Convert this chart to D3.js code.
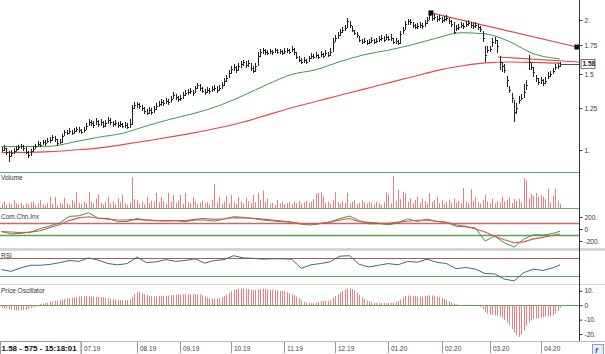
<!DOCTYPE html>
<html><head><meta charset="utf-8">
<script src="https://cdn.jsdelivr.net/npm/d3@7"></script>
<style>
html,body{margin:0;padding:0;background:#fff;}
svg{display:block;}
text{font-family:"Liberation Sans",Arial,sans-serif;}
</style></head><body>
<svg id="c" width="605" height="354"></svg>
<script>
// ---------- DATA ----------
const closes=[1.000,1.011,0.990,0.969,0.984,0.995,1.006,1.017,1.022,1.011,
0.990,0.974,0.995,1.006,1.022,1.033,1.028,1.044,1.039,1.050,
1.055,1.072,1.061,1.039,1.044,1.078,1.101,1.096,1.107,1.096,
1.107,1.119,1.113,1.101,1.113,1.137,1.161,1.155,1.143,1.167,
1.149,1.161,1.137,1.155,1.173,1.161,1.149,1.155,1.143,1.149,
1.137,1.143,1.131,1.149,1.252,1.272,1.279,1.265,1.252,1.232,
1.219,1.238,1.225,1.245,1.265,1.279,1.292,1.286,1.299,1.292,
1.313,1.342,1.327,1.313,1.320,1.342,1.356,1.363,1.370,1.356,
1.392,1.415,1.392,1.370,1.363,1.377,1.370,1.385,1.392,1.377,
1.392,1.415,1.445,1.468,1.508,1.540,1.557,1.532,1.566,1.582,
1.599,1.574,1.591,1.549,1.524,1.566,1.651,1.686,1.704,1.686,
1.678,1.695,1.686,1.704,1.686,1.695,1.678,1.695,1.704,1.686,
1.713,1.686,1.642,1.616,1.599,1.616,1.599,1.634,1.651,1.642,
1.660,1.642,1.669,1.651,1.678,1.660,1.686,1.779,1.818,1.847,
1.876,1.896,1.917,1.990,1.948,1.896,1.867,1.847,1.798,1.779,
1.789,1.770,1.779,1.798,1.779,1.789,1.808,1.818,1.798,1.827,
1.808,1.818,1.779,1.789,1.770,1.857,1.896,1.958,1.990,1.979,
1.948,1.927,1.938,1.948,1.938,1.969,2.000,2.055,2.022,2.033,
2.011,2.022,2.000,2.011,2.022,1.990,1.958,1.876,1.917,1.927,
1.948,1.938,1.958,1.969,1.948,1.938,1.948,1.927,1.906,1.818,
1.660,1.704,1.713,1.779,1.798,1.742,1.599,1.566,1.532,1.452,
1.377,1.320,1.225,1.252,1.306,1.320,1.363,1.415,1.599,1.557,
1.516,1.468,1.437,1.452,1.430,1.445,1.484,1.500,1.524,1.557,
1.566,1.582];
const highs=[1.017,1.028,1.011,0.995,1.000,1.011,1.022,1.028,1.033,1.028,
1.017,0.995,1.006,1.022,1.033,1.050,1.044,1.055,1.055,1.067,
1.072,1.084,1.078,1.061,1.061,1.090,1.113,1.113,1.125,1.113,
1.125,1.131,1.131,1.119,1.131,1.155,1.180,1.173,1.167,1.186,
1.173,1.180,1.167,1.173,1.193,1.186,1.167,1.173,1.161,1.167,
1.155,1.161,1.155,1.180,1.272,1.292,1.292,1.286,1.272,1.258,
1.245,1.258,1.252,1.265,1.286,1.299,1.313,1.306,1.320,1.313,
1.334,1.363,1.349,1.334,1.342,1.363,1.377,1.385,1.392,1.377,
1.407,1.430,1.422,1.400,1.385,1.400,1.392,1.407,1.415,1.407,
1.415,1.437,1.468,1.492,1.532,1.566,1.582,1.566,1.591,1.608,
1.616,1.608,1.616,1.591,1.566,1.591,1.686,1.713,1.723,1.713,
1.704,1.713,1.704,1.723,1.713,1.713,1.704,1.723,1.723,1.713,
1.742,1.723,1.686,1.651,1.634,1.642,1.625,1.651,1.678,1.669,
1.686,1.669,1.695,1.678,1.704,1.686,1.723,1.818,1.847,1.876,
1.906,1.927,1.948,2.022,1.990,1.938,1.896,1.876,1.837,1.808,
1.818,1.798,1.808,1.827,1.808,1.818,1.837,1.847,1.837,1.857,
1.837,1.857,1.818,1.818,1.798,1.886,1.927,1.990,2.011,2.011,
1.979,1.958,1.969,1.979,1.969,2.000,2.033,2.077,2.055,2.066,
2.044,2.055,2.033,2.044,2.055,2.022,2.000,1.979,1.948,1.958,
1.979,1.969,1.990,2.000,1.979,1.969,1.979,1.958,1.938,1.886,
1.742,1.742,1.742,1.818,1.827,1.798,1.651,1.599,1.582,1.484,
1.407,1.356,1.306,1.286,1.334,1.349,1.422,1.452,1.660,1.591,
1.557,1.492,1.468,1.476,1.460,1.476,1.516,1.524,1.549,1.582,
1.591,1.599];
const lows=[0.990,0.995,0.974,0.938,0.964,0.979,0.990,1.000,1.006,0.995,
0.979,0.958,0.969,0.990,1.006,1.017,1.017,1.028,1.022,1.039,
1.039,1.050,1.044,1.022,1.033,1.039,1.078,1.084,1.090,1.084,
1.090,1.101,1.096,1.090,1.096,1.113,1.137,1.137,1.125,1.143,
1.131,1.137,1.125,1.131,1.149,1.143,1.131,1.137,1.125,1.131,
1.125,1.125,1.119,1.125,1.143,1.245,1.252,1.245,1.232,1.212,
1.206,1.212,1.206,1.219,1.238,1.258,1.265,1.265,1.279,1.272,
1.286,1.313,1.306,1.292,1.299,1.313,1.334,1.342,1.349,1.334,
1.356,1.385,1.370,1.356,1.342,1.356,1.349,1.363,1.370,1.356,
1.370,1.385,1.407,1.437,1.468,1.500,1.524,1.508,1.524,1.549,
1.566,1.549,1.557,1.524,1.508,1.516,1.566,1.642,1.669,1.660,
1.660,1.669,1.660,1.678,1.669,1.669,1.660,1.669,1.678,1.669,
1.686,1.660,1.625,1.599,1.582,1.591,1.582,1.599,1.625,1.625,
1.634,1.625,1.642,1.634,1.651,1.642,1.651,1.686,1.779,1.808,
1.837,1.867,1.886,1.917,1.917,1.876,1.847,1.818,1.779,1.760,
1.770,1.751,1.760,1.770,1.760,1.770,1.779,1.789,1.779,1.798,
1.789,1.789,1.760,1.760,1.751,1.760,1.857,1.896,1.948,1.948,
1.917,1.906,1.906,1.917,1.906,1.927,1.958,2.000,1.990,2.000,
1.979,1.990,1.969,1.979,1.990,1.958,1.927,1.857,1.886,1.896,
1.917,1.906,1.927,1.938,1.917,1.906,1.917,1.896,1.876,1.779,
1.599,1.678,1.686,1.732,1.760,1.678,1.532,1.516,1.508,1.400,
1.356,1.286,1.161,1.212,1.279,1.306,1.320,1.377,1.532,1.532,
1.476,1.437,1.415,1.422,1.407,1.422,1.460,1.476,1.500,1.532,
1.540,1.557];
// volume in millions
const volumes=[15,22,12,18,14,27,16,13,19,11,
17,14,20,22,12,16,27,14,10,18,
38,15,36,12,19,14,34,17,13,27,
20,52,18,14,22,16,52,20,15,32,
45,18,13,21,38,16,24,14,32,20,
43,17,12,20,100,30,27,15,20,13,
38,18,25,22,50,19,38,24,16,50,
22,43,18,26,43,15,50,20,17,38,
22,14,18,25,16,20,13,28,78,19,
38,15,22,40,17,43,20,14,38,22,
16,35,24,18,43,20,50,28,57,22,
32,15,18,12,27,16,22,14,18,20,
15,22,18,24,16,20,25,18,22,30,
48,50,52,38,18,22,15,26,52,20,
15,24,18,50,16,22,26,14,18,27,
20,16,22,18,14,22,17,12,20,52,
44,16,104,25,60,30,54,48,22,32,
18,27,38,20,32,24,16,48,22,27,
38,17,26,14,22,28,20,32,18,24,
16,66,22,18,62,25,38,20,16,27,
43,22,18,32,16,24,20,38,22,27,
36,18,30,24,32,20,97,90,32,48,
40,50,38,42,38,30,64,20,40,64,
25,15];
const oscillator=[-2.0,-2.2,-2.5,-2.8,-3.1,-3.4,-3.6,-3.7,-3.6,-3.4,
-3.0,-2.6,-2.0,-1.4,-0.9,-0.5,0.8,1.1,1.5,1.9,
2.3,2.6,3.0,3.4,3.8,4.1,4.4,4.7,4.9,5.2,
5.6,5.9,6.1,6.2,6.3,6.3,6.2,6.1,6.0,5.9,
5.8,5.7,5.4,5.1,4.8,4.5,4.2,3.9,3.7,3.5,
3.4,3.4,3.5,4.2,5.8,7.6,9.0,9.3,8.6,7.8,
7.0,6.5,6.2,6.1,6.2,6.3,6.3,6.4,6.5,6.7,
6.9,7.1,7.2,7.3,7.4,7.6,7.7,7.7,7.8,7.7,
7.6,7.6,7.4,6.8,6.0,5.2,4.8,4.6,4.5,4.6,
5.0,5.6,6.5,7.5,8.6,9.7,10.6,11.1,11.4,11.6,
11.7,11.5,11.1,10.7,10.5,10.6,10.9,11.2,11.3,11.2,
11.0,10.8,10.6,10.4,10.2,10.0,9.8,9.5,9.1,8.3,
7.5,7.0,6.0,4.8,3.5,2.4,1.8,1.5,1.4,1.5,
1.8,2.2,2.6,2.9,3.0,3.1,3.6,5.0,6.3,7.5,
8.8,10.0,11.0,11.7,11.8,11.2,10.2,8.8,7.2,5.6,
4.3,3.3,2.6,2.1,1.8,1.6,1.5,1.5,1.5,1.6,
1.6,1.7,1.9,2.2,2.8,4.0,5.4,6.3,6.7,6.6,
6.4,6.2,6.1,6.0,6.1,6.3,6.6,6.9,6.8,6.5,
6.0,5.5,5.0,4.3,3.6,2.8,1.9,1.2,0.6,0.3,
0.2,0.2,0.2,0.3,0.3,0.2,0.1,-0.3,-1.2,-2.8,
-4.6,-5.8,-6.5,-6.8,-7.0,-7.2,-7.8,-8.8,-10.3,-12.0,
-14.2,-16.5,-19.0,-21.0,-22.0,-20.5,-17.5,-14.5,-12.0,-10.4,
-9.6,-9.2,-9.0,-8.6,-8.2,-8.0,-7.9,-7.6,-7.0,-5.6,
-4.0,-1.8];
// moving averages, read at these bar numbers
const maBars=[0,10,20,30,40,50,60,70,80,90,100,110,120,130,140,150,160,170,180,190,200,210,220,230,231];
const maFast=[1.018,1.019,1.020,1.044,1.070,1.093,1.137,1.179,1.217,1.267,1.337,1.419,1.496,1.534,1.602,1.662,1.703,1.754,1.817,1.869,1.858,1.784,1.671,1.627,1.624];
const maSlow=[0.986,0.987,0.991,1.000,1.010,1.029,1.050,1.072,1.097,1.126,1.161,1.206,1.253,1.295,1.339,1.384,1.430,1.478,1.527,1.565,1.592,1.599,1.595,1.590,1.590];
// indicators, read at these bar numbers
const indBars=[0,4,8,12,16,20,24,28,32,36,40,44,48,52,56,60,64,68,72,76,80,84,88,92,96,100,104,108,112,116,120,124,128,132,136,140,144,148,152,156,160,164,168,172,176,180,184,188,192,196,200,204,208,212,216,220,224,228,231];
const cci=[-40,-83,-72,-50,5,50,100,210,220,270,180,178,122,125,175,150,140,135,140,122,150,150,130,165,205,195,175,150,135,122,115,80,67,90,120,175,215,140,85,90,70,100,170,125,165,125,112,45,35,20,-200,-120,-230,-300,-170,-95,-100,-75,-39];
const cciMa=[-44,-50,-60,-52,-30,25,70,140,185,205,180,165,150,152,158,148,140,140,140,140,160,175,160,170,188,185,178,165,150,132,110,90,84,94,115,150,175,122,110,100,95,115,130,145,145,130,110,70,45,0,-50,-120,-180,-230,-215,-165,-140,-105,-83];
const rsi=[44,40,48,54,54,56,60,65,63,71,66,58,55,58,73,60,62,67,63,65,69,59,65,67,76,71,70,68,69,69,68,47,55,58,62,75,76,56,50,54,58,55,63,61,68,61,58,46,49,45,35,34,22,18,37,45,42,48,55];
// trend lines [bar, price]
const trendA=[[177.6,2.077],[238,1.732]];
const trendB=[[205.3,1.642],[238.8,1.599]];
// axes
const monthBars=[33,56,74,95,117,138,160,182,202,223];
const monthLabels=["07.19","08.19","09.19","10.19","11.19","12.19","01.20","02.20","03.20","04.20"];
const priceTicks=[1,1.25,1.5,1.75,2], priceTickLabels=["1.","1.25","1.5","1.75","2."];
const volTicks=[0,20,40,60,80], volTickLabels=["0","20. M","40. M","60. M","80. M"];
const cciTicks=[-200,0,200], cciTickLabels=["-200.","0","200."];
const cciLevels=[100,-100];
const rsiTicks=[20,40,60,80], rsiTickLabels=["20.","40.","60.","80."];
const rsiLevels=[70,30];
const oscTicks=[-20,-10,0,10], oscTickLabels=["-20.","-10.","0","10."];
const infoText="1.58 - 575 - 15:18:01";

// ---------- DRAW ----------
const svg=d3.select("#c");
const AX=579.5;
const N=closes.length;
const x=d3.scaleLinear().domain([0,N-1]).range([1.5,560]);
const px=i=>Math.round(x(i))+0.5;
const yP=d3.scaleLog().domain([0.8893,2.2255]).range([172,0]);
const yV=d3.scaleLinear().domain([0,80]).range([208.5,183.5]);
const yC=d3.scaleLinear().domain([-200,200]).range([241,217]);
const yR=d3.scaleLinear().domain([20,80]).range([280,254]);
const yO=d3.scaleLinear().domain([-20,10]).range([334,290.8]);
const rnd=v=>Math.round(v)+0.5;

const defs=svg.append("defs");
function clip(id,x0,y0,w,h){defs.append("clipPath").attr("id",id).append("rect").attr("x",x0).attr("y",y0).attr("width",w).attr("height",h);return `url(#${id})`;}
const cpP=clip("cpP",0,0,579,172), cpV=clip("cpV",0,173,579,35.5), cpC=clip("cpC",0,209,579,39.5),
      cpR=clip("cpR",0,251,579,33), cpO=clip("cpO",0,285,579,56);
const cpVa=clip("cpVa",579,173,30,32.5), cpRa=clip("cpRa",579,251,30,32.5);

function hline(y,x1,x2,color,w){svg.append("line").attr("x1",x1).attr("x2",x2).attr("y1",y).attr("y2",y).attr("stroke",color).attr("stroke-width",w||1);}
// separators
hline(172.5,0,AX,"#63b063");
hline(208.5,0,AX,"#63b063");
hline(249.5,0,605,"#d4d4d4",3);
hline(284.5,0,605,"#d8d8d8");
hline(341.5,0,605,"#b8b8b8");

// reference levels
const gC=svg.append("g").attr("clip-path",cpC);
cciLevels.forEach((v,k)=>gC.append("line").attr("x1",0).attr("x2",AX).attr("y1",rnd(yC(v))).attr("y2",rnd(yC(v))).attr("stroke",k===0?"#c46a6a":"#4fa84f").attr("stroke-width",1.5));
const gR=svg.append("g").attr("clip-path",cpR);
rsiLevels.forEach((v,k)=>gR.append("line").attr("x1",0).attr("x2",AX).attr("y1",rnd(yR(v))).attr("y2",rnd(yR(v))).attr("stroke",k===0?"#b05a5a":"#4fa84f").attr("stroke-width",1.2));
const gO=svg.append("g").attr("clip-path",cpO);
gO.append("line").attr("x1",0).attr("x2",AX).attr("y1",rnd(yO(0))).attr("y2",rnd(yO(0))).attr("stroke","#4fa84f");

// price panel
const gP=svg.append("g").attr("clip-path",cpP);
const line=d3.line().x(d=>x(d[0])).y(d=>yP(d[1])).curve(d3.curveMonotoneX);
gP.append("path").attr("d",line(maBars.map((b,k)=>[b,maSlow[k]]))).attr("fill","none").attr("stroke","#e8474c").attr("stroke-width",1.2);
gP.append("path").attr("d",line(maBars.map((b,k)=>[b,maFast[k]]))).attr("fill","none").attr("stroke","#3e9a46").attr("stroke-width",1);
const tl=d3.line().x(d=>x(d[0])).y(d=>yP(d[1]));
gP.append("path").attr("d",tl(trendA)).attr("stroke","#e0484c").attr("stroke-width",1.2).attr("fill","none");
gP.append("path").attr("d",tl(trendB)).attr("stroke","#e0484c").attr("stroke-width",1.2).attr("fill","none");
gP.selectAll("line.hl").data(closes).join("line").attr("class","hl")
  .attr("x1",(d,i)=>px(i)).attr("x2",(d,i)=>px(i))
  .attr("y1",(d,i)=>yP(highs[i])).attr("y2",(d,i)=>yP(lows[i]))
  .attr("stroke","#222").attr("stroke-width",1);
gP.selectAll("line.cl").data(closes).join("line").attr("class","cl")
  .attr("x1",(d,i)=>px(i)+0.5).attr("x2",(d,i)=>px(i)+1.5)
  .attr("y1",d=>rnd(yP(d))).attr("y2",d=>rnd(yP(d)))
  .attr("stroke","#222").attr("stroke-width",1);
// last price line
gP.append("line").attr("x1",px(N-1)).attr("x2",AX).attr("y1",rnd(yP(closes[N-1]))).attr("y2",rnd(yP(closes[N-1]))).attr("stroke","#555");
// trend end squares
[trendA[0],trendA[1]].forEach(p=>svg.append("rect").attr("x",x(p[0])-2.5).attr("y",yP(p[1])-2.5).attr("width",5).attr("height",5).attr("fill","#111"));

// volume
const gV=svg.append("g").attr("clip-path",cpV);
gV.selectAll("line").data(volumes).join("line")
  .attr("x1",(d,i)=>px(i)).attr("x2",(d,i)=>px(i))
  .attr("y1",yV(0)).attr("y2",d=>yV(d)).attr("stroke","#ef7c80");

// CCI lines
const lc=d3.line().x(d=>x(d[0])).y(d=>yC(d[1]));
gC.append("path").attr("d",lc(indBars.map((b,k)=>[b,cci[k]]))).attr("fill","none").attr("stroke","#3d9a45");
gC.append("path").attr("d",lc(indBars.map((b,k)=>[b,cciMa[k]]))).attr("fill","none").attr("stroke","#e05050").attr("stroke-width",1.1);

// RSI
const lr=d3.line().x(d=>x(d[0])).y(d=>yR(d[1]));
gR.append("path").attr("d",lr(indBars.map((b,k)=>[b,rsi[k]]))).attr("fill","none").attr("stroke","#3f6690").attr("stroke-width",1);

// oscillator
gO.selectAll("line.o").data(oscillator).join("line").attr("class","o")
  .attr("x1",(d,i)=>px(i)).attr("x2",(d,i)=>px(i))
  .attr("y1",yO(0)).attr("y2",d=>yO(d)).attr("stroke","#ef7c80");

// right axis
svg.append("line").attr("x1",AX).attr("x2",AX).attr("y1",0).attr("y2",341).attr("stroke","#333");
function rAxis(scale,vals,labels,cp){
  const g=svg.append("g").attr("transform",`translate(${AX},0)`)
    .call(d3.axisRight(scale).tickValues(vals).tickFormat((d,i)=>labels[i]).tickSize(3).tickPadding(2));
  g.select(".domain").remove();
  g.selectAll("line").attr("stroke","#333");
  g.selectAll("text").attr("font-size","6.5px").attr("fill","#333").attr("font-family","Liberation Sans, Arial, sans-serif");
  if(cp) g.attr("clip-path",cp);
  return g;
}
rAxis(yP,priceTicks,priceTickLabels);
rAxis(yV,volTicks,volTickLabels,cpVa);
rAxis(yC,cciTicks,cciTickLabels);
rAxis(yR,rsiTicks,rsiTickLabels,cpRa);
rAxis(yO,oscTicks,oscTickLabels);
// last price label
const lpY=yP(closes[N-1]);
svg.append("rect").attr("x",AX+1.5).attr("y",lpY-4.5).attr("width",14).attr("height",9).attr("fill","#fff").attr("stroke","#555").attr("stroke-width",0.8);
svg.append("text").attr("x",AX+3).attr("y",lpY+2.3).attr("font-size","6.5px").attr("font-weight","bold").attr("fill","#222").text(d3.format(".2f")(closes[N-1]));

// panel labels
[["Volume",180],["Com.Chn.Inx",218.5],["RSI",258],["Price Oscillator",292.5]].forEach(d=>
  svg.append("text").attr("x",1).attr("y",d[1]).attr("font-size","6.5px").attr("fill","#333").text(d[0]));

// bottom date axis
monthBars.forEach((b,k)=>{
  const xx=px(b);
  svg.append("line").attr("x1",xx).attr("x2",xx).attr("y1",342).attr("y2",353).attr("stroke","#999");
  svg.append("text").attr("x",xx+2.5).attr("y",350.5).attr("font-size","6.5px").attr("fill","#444").text(monthLabels[k]);
});
svg.append("rect").attr("x",0.5).attr("y",341.5).attr("width",80.5).attr("height",13).attr("fill","#fff").attr("stroke","#999");
svg.append("text").attr("x",1.5).attr("y",351).attr("font-size","8px").attr("font-weight","bold").attr("fill","#111").text(infoText);
// small icon bottom right
svg.append("rect").attr("x",592.5).attr("y",344.5).attr("width",11).attr("height",10).attr("fill","#e6edf8").attr("stroke","#8a9cc0");
svg.append("text").attr("x",595).attr("y",353).attr("font-size","8px").attr("font-style","italic").attr("font-weight","bold").attr("fill","#2a4f9a").text("f");
</script>
</body></html>
